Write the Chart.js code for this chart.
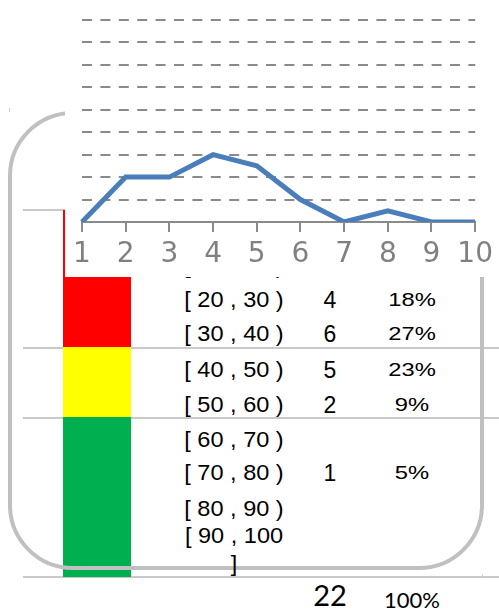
<!DOCTYPE html>
<html>
<head>
<meta charset="utf-8">
<script src="https://cdn.jsdelivr.net/npm/chart.js@4.4.1/dist/chart.umd.min.js"></script>
<style>
  html, body { margin: 0; padding: 0; background: #fff; }
  #sheet {
    position: relative; width: 499px; height: 613px; overflow: hidden; background: #fff;
    font-family: "Liberation Sans", Arial, sans-serif; color: #000;
  }
  .hl { position: absolute; height: 2px; background: #c9c9c9; }
  .band { position: absolute; left: 63px; width: 68px; }
  .frame {
    position: absolute; left: 8px; top: 111px; width: 476px; height: 459px;
    box-sizing: border-box; border: 4px solid #c0c0c0; border-radius: 65px;
  }
  .speck { position: absolute; width: 1px; height: 4px; background: #cfcfcf; }
  .cell { position: absolute; text-align: center; line-height: 28px; }
  .range { left: 184px; width: 100px; font-size: 22px; transform: scaleX(1.07); }
  .count { left: 280px; width: 100px; font-size: 23px; }
  .pct { left: 362px; width: 100px; font-size: 19px; transform: scaleX(1.25); }
  .total { font-family: Lato, "Open Sans", sans-serif; transform: none; }
  #chartBox { position: absolute; left: 65px; top: 0; width: 434px; height: 277px; z-index: 5; }
</style>
</head>
<body>
<div id="sheet">
  <div id="table"></div>
  <div id="chartBox"><canvas id="chart" width="434" height="277"></canvas></div>
</div>
<script>
// Line chart: frequency per class, x = class number 1..10
const xLabels = ['1', '2', '3', '4', '5', '6', '7', '8', '9', '10'];
const lineValues = [0, 4, 4, 6, 5, 2, 0, 1, 0, 0];
const yMin = 0, yMax = 18, yStep = 2;

// Frequency table beneath the chart
const ranges = ['[ 10 , 20 )', '[ 20 , 30 )', '[ 30 , 40 )', '[ 40 , 50 )', '[ 50 , 60 )',
                '[ 60 , 70 )', '[ 70 , 80 )', '[ 80 , 90 )', '[ 90 , 100 ]'];
const counts = ['4', '4', '6', '5', '2', '', '1', '', ''];
const percents = ['18%', '18%', '27%', '23%', '9%', '', '5%', '', ''];
const totalCount = '22';
const totalPercent = '100%';

// Layout of the sheet (row centres, band spans, rule lines)
const rowCenters = [266, 300, 334, 370, 405, 440, 473, 509, 536];
const bands = [
  { top: 210, bottom: 347, color: '#ff0000' },
  { top: 347, bottom: 417, color: '#ffff00' },
  { top: 417, bottom: 577, color: '#00b050' }
];
const rules = [
  { y: 209, x0: 23, x1: 65 },
  { y: 347, x0: 23, x1: 499 },
  { y: 417, x0: 23, x1: 499 },
  { y: 576, x0: 23, x1: 499 }
];

const table = document.getElementById('table');
function add(cls, style, text) {
  const d = document.createElement('div');
  d.className = cls;
  Object.assign(d.style, style);
  if (text !== undefined) d.textContent = text;
  table.appendChild(d);
  return d;
}

rules.forEach(r => add('hl', { top: r.y + 'px', left: r.x0 + 'px', width: (r.x1 - r.x0) + 'px' }));
bands.forEach(b => add('band', { top: b.top + 'px', height: (b.bottom - b.top) + 'px', background: b.color }));
add('frame', {});
add('speck', { left: '9px', top: '108px' });
add('speck', { left: '482px', top: '574px' });

ranges.forEach((txt, i) => {
  const top = (rowCenters[i] - 14) + 'px';
  add('cell range', { top }, txt);
  if (counts[i]) add('cell count', { top }, counts[i]);
  if (percents[i]) add('cell pct', { top }, percents[i]);
});
add('cell count total', { top: '580px', fontSize: '29px', lineHeight: '30px' }, totalCount);
add('cell pct total', { top: '586px', fontSize: '22px' }, totalPercent);

// White backdrop so the chart sits on top of the sheet
const whiteBackdrop = {
  id: 'whiteBackdrop',
  beforeDraw(c) {
    const ctx = c.ctx;
    ctx.save();
    ctx.fillStyle = '#ffffff';
    ctx.fillRect(0, 0, c.width, c.height);
    ctx.restore();
  }
};

const gridGray = '#8a8a8a';

new Chart(document.getElementById('chart'), {
  type: 'line',
  data: {
    labels: xLabels,
    datasets: [{
      data: lineValues,
      borderColor: '#4a7ebb',
      borderWidth: 5,
      pointRadius: 0,
      pointHoverRadius: 0,
      tension: 0,
      fill: false
    }]
  },
  options: {
    responsive: false,
    animation: false,
    devicePixelRatio: 1,
    layout: { padding: { left: 17, right: 21, top: 20, bottom: 0 } },
    plugins: { legend: { display: false }, tooltip: { enabled: false } },
    scales: {
      x: {
        offset: false,
        grid: { drawOnChartArea: false, drawTicks: true, tickLength: 10, color: gridGray, lineWidth: 2 },
        border: { display: true, color: gridGray, width: 2 },
        ticks: {
          color: '#808080',
          font: { family: 'DejaVu Sans', size: 28 },
          padding: 6,
          maxRotation: 0,
          autoSkip: false
        },
        afterFit(scale) { scale.height = 55; }
      },
      y: {
        min: yMin,
        max: yMax,
        ticks: { stepSize: yStep, display: false },
        grid: {
          drawTicks: false,
          lineWidth: 2,
          color: (ctx) => (ctx.tick && ctx.tick.value === 0) ? 'rgba(0,0,0,0)' : gridGray
        },
        border: { display: false, dash: [10, 8.4] }
      }
    }
  },
  plugins: [whiteBackdrop]
});
</script>
</body>
</html>
